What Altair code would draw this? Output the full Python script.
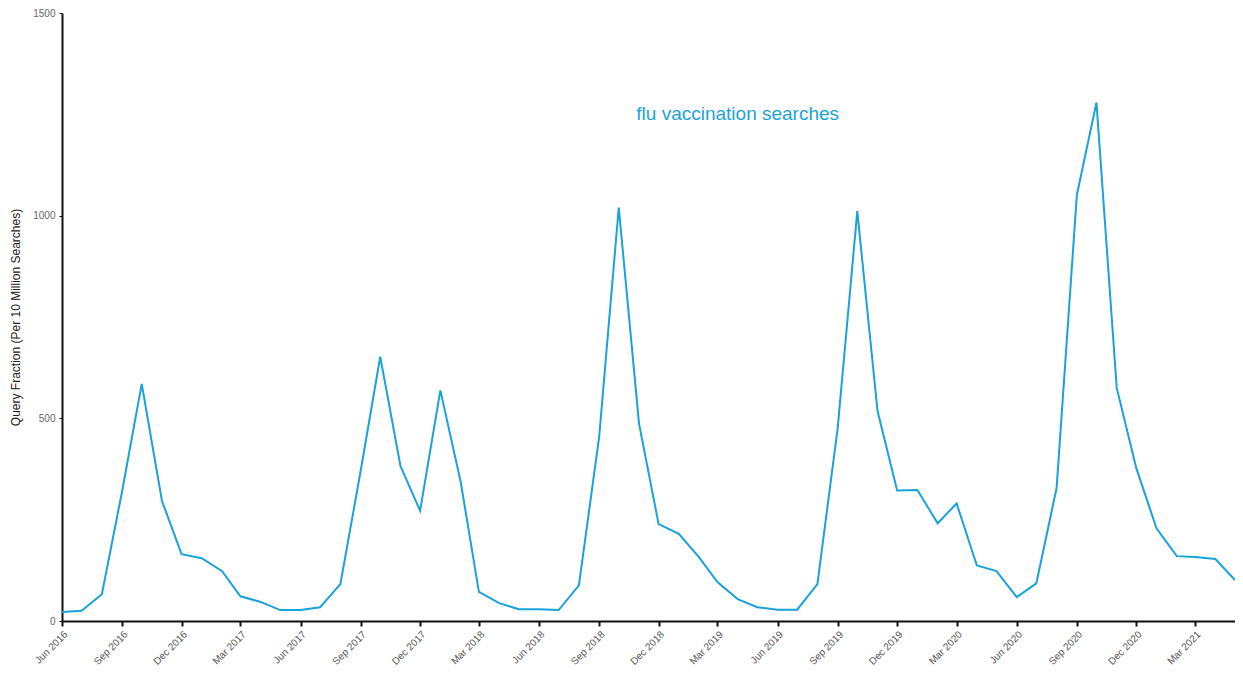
import altair as alt
import pandas as pd

months = pd.date_range("2016-06-01", "2021-05-01", freq="MS").strftime("%Y-%m-%d").tolist()
values = [22, 25, 66, 320, 585, 296, 165, 155, 123, 61,
          47, 27, 27, 34, 91, 370, 652, 382, 272, 569,
          344, 72, 44, 29, 29, 27, 88, 454, 1020, 487,
          239, 215, 157, 96, 54, 34, 28, 28, 91, 476,
          1011, 518, 322, 323, 241, 290, 137, 123, 59, 93,
          328, 1051, 1279, 575, 377, 228, 160, 158, 153, 101]

tick_dates = pd.date_range("2016-06-01", "2021-03-01", freq="3MS")
tick_values = [alt.DateTime(year=d.year, month=d.month, date=1) for d in tick_dates]

label_date = ["2019-04-01"]
label_value = [1250]
label_text = ["flu vaccination searches"]

df = pd.DataFrame({"date": months, "value": values})
lab = pd.DataFrame({"date": label_date, "value": label_value, "text": label_text})

color = "#1aa3d9"

xscale = alt.Scale(domain=[alt.DateTime(year=2016, month=6, date=1),
                           alt.DateTime(year=2021, month=5, date=1)], nice=False)
yscale = alt.Scale(domain=[0, 1500], nice=False)

line = alt.Chart(df).mark_line(color=color, strokeWidth=2).encode(
    x=alt.X("date:T", scale=xscale, title=None,
            axis=alt.Axis(format="%b %Y", values=tick_values,
                          labelAngle=-45, labelFontSize=10, labelColor="#555",
                          labelFont="Liberation Sans", grid=False,
                          domainColor="#111", domainWidth=2, tickColor="#111",
                          tickWidth=2, tickSize=5, labelPadding=3)),
    y=alt.Y("value:Q", scale=yscale,
            title="Query Fraction (Per 10 Million Searches)",
            axis=alt.Axis(values=[0, 500, 1000, 1500], format="d", grid=False,
                          labelFontSize=10, labelColor="#666", labelFont="Liberation Sans",
                          domainColor="#111", domainWidth=2, tickColor="#111",
                          tickWidth=1, tickSize=3, labelPadding=4,
                          titleFont="Liberation Sans", titleFontSize=12,
                          titleFontWeight="normal", titleColor="#222", titlePadding=10)),
)

text = alt.Chart(lab).mark_text(color=color, fontSize=19, font="Liberation Sans",
                                align="center", baseline="middle").encode(
    x=alt.X("date:T", scale=xscale),
    y=alt.Y("value:Q", scale=yscale),
    text="text:N",
)

chart = (line + text).properties(
    width=1173, height=608,
    autosize=alt.AutoSizeParams(type="none"),
    padding={"left": 54, "top": 5, "right": 0, "bottom": 46},
).configure_view(stroke=None)

chart.save("out.html", embed_options={"renderer": "svg", "actions": False})
